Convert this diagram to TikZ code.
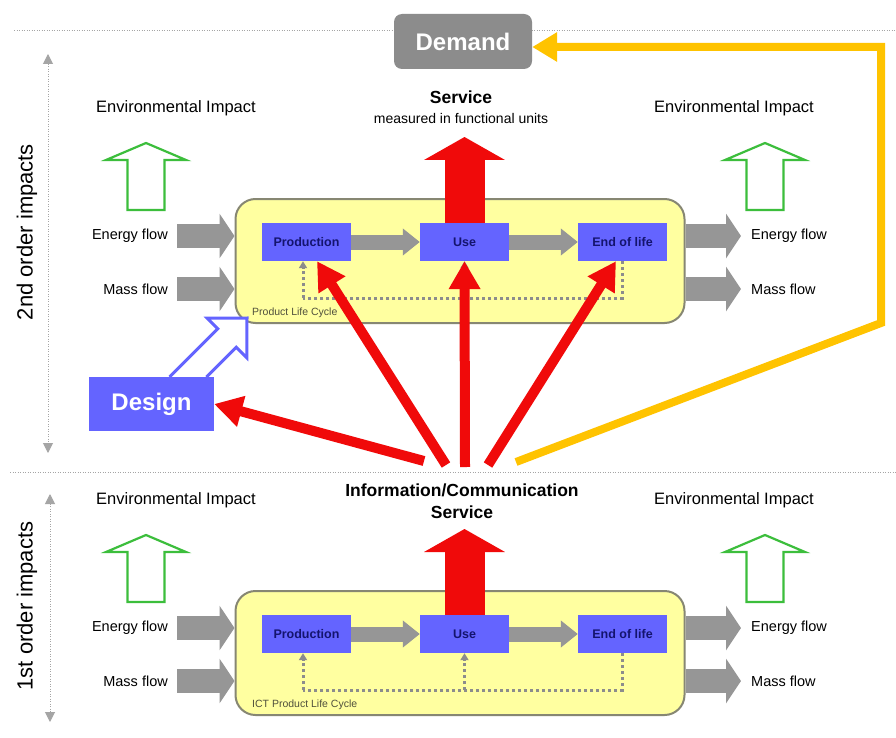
\documentclass[tikz,border=0pt]{standalone}
\usepackage{fontspec}
\setmainfont{Liberation Sans}
\usetikzlibrary{arrows.meta}
\definecolor{stageblue}{RGB}{100,100,255}
\definecolor{navy}{RGB}{20,20,110}
\definecolor{lcfill}{RGB}{255,255,160}
\definecolor{lcborder}{RGB}{135,135,115}
\definecolor{flowgray}{RGB}{150,150,150}
\definecolor{redc}{RGB}{240,10,10}
\definecolor{goldc}{RGB}{255,195,0}
\definecolor{envgreen}{RGB}{60,190,60}
\definecolor{demandgray}{RGB}{140,140,140}
\definecolor{sepgray}{RGB}{165,165,165}
\definecolor{fbgray}{RGB}{140,140,140}
\definecolor{lclabelc}{RGB}{80,80,60}
\newcommand\fsz[2]{\fontsize{#1}{#2}\selectfont}
% one life-cycle section: #1 = name prefix, #2 = cycle label, #3 = vertical shift
\newcommand\lcsection[3]{%
\begin{scope}[shift={(0,#3)}]
  \node[lcbox] (#1box) at (460,261) {};
  \node[lclabel, anchor=west] (#1boxlbl) at (252,313) {#2};
  \node[stage] (#1prod) at (306.5,242) {Production};
  \node[stage] (#1use) at (464.5,242) {Use};
  \node[stage] (#1eol) at (622.5,242) {End of life};
  \draw[flowsmall] (#1prod) -- (#1use);
  \draw[flowsmall] (#1use) -- (#1eol);
  % feedback loop
  \coordinate (#1fbl) at (303,298);
  \draw[fb] (#1eol.south) |- (#1fbl);
  \draw[fbtip] (#1fbl) -- (#1fbl |- #1prod.south);
  \draw[fbtip] (#1fbl -| #1use.south) -- (#1use.south);
  % flows
  \node[txt, anchor=east] (#1eL) at (168,236) {Energy flow};
  \node[txt, anchor=east] (#1mL) at (168,289) {Mass flow};
  \node[txt, anchor=west] (#1eR) at (751,236) {Energy flow};
  \node[txt, anchor=west] (#1mR) at (751,289) {Mass flow};
  \coordinate (#1eIn) at (177,236);
  \coordinate (#1mIn) at (177,289);
  \coordinate (#1eOut) at (741,236);
  \coordinate (#1mOut) at (741,289);
  \draw[flowbig] (#1eIn) -- (#1eIn -| #1box.west);
  \draw[flowbig] (#1mIn) -- (#1mIn -| #1box.west);
  \draw[flowbig] (#1eOut -| #1box.east) -- (#1eOut);
  \draw[flowbig] (#1mOut -| #1box.east) -- (#1mOut);
  % environmental impact
  \node[envtxt] (#1envL) at (176,108) {Environmental Impact};
  \node[envtxt] (#1envR) at (734,108) {Environmental Impact};
  \coordinate (#1gL) at (146,143);
  \coordinate (#1gR) at (765,143);
  \draw[envarrow] (#1gL) -- ++(40,17) -- ++(-21.5,0) -- ++(0,50) -- ++(-37,0) -- ++(0,-50) -- ++(-21.5,0) -- cycle;
  \draw[envarrow] (#1gR) -- ++(40,17) -- ++(-21.5,0) -- ++(0,50) -- ++(-37,0) -- ++(0,-50) -- ++(-21.5,0) -- cycle;
  % service output
  \coordinate (#1svc) at (464.5,137);
  \draw[svcarrow] (#1use.north) -- (#1svc);
\end{scope}}
\begin{document}
\begin{tikzpicture}[x=1pt,y=-1pt,
  lcbox/.style={draw=lcborder, line width=2pt, fill=lcfill, rounded corners=20pt,
    minimum width=449pt, minimum height=124pt, inner sep=0pt},
  lclabel/.style={font=\fsz{10.5}{12}, text=lclabelc, inner sep=0pt},
  stage/.style={fill=stageblue, minimum width=89pt, minimum height=38pt, inner sep=0pt,
    font=\bfseries\fsz{12.5}{15}, text=navy},
  txt/.style={font=\fsz{14.5}{17}, inner sep=0pt},
  envtxt/.style={font=\fsz{16.5}{19}, inner sep=0pt},
  flowbig/.style={draw=flowgray, line width=24pt, -{Triangle[length=15pt,width=44pt]}},
  flowsmall/.style={draw=flowgray, line width=15pt, -{Triangle[length=17pt,width=26pt]}},
  envarrow/.style={draw=envgreen, line width=2.2pt, fill=white, line join=miter},
  fb/.style={draw=fbgray, line width=3pt, dash pattern=on 3pt off 3pt},
  fbtip/.style={fb, -{Triangle[length=7pt,width=8pt]}},
  svcarrow/.style={draw=redc, line width=40pt, -{Triangle[length=23pt,width=80pt]}},
  ictarrow/.style={draw=redc, line width=10pt, -{Triangle[length=28pt,width=30pt]}},
  demandarrow/.style={draw=goldc, line width=8pt, -{Triangle[length=25pt,width=28pt]}},
  sepline/.style={draw=sepgray, line width=1pt, dash pattern=on 1pt off 1.5pt},
  axisline/.style={draw=sepgray, line width=1pt, dash pattern=on 1pt off 1.5pt,
    {Triangle[length=10pt,width=10pt]}-{Triangle[length=10pt,width=10pt]}},
  sidelabel/.style={rotate=90, font=\fsz{22}{26}, inner sep=0pt},
  designarrow/.style={draw=stageblue, line width=3pt, fill=white, line join=miter}
]
\useasboundingbox (0,0) rectangle (896,738);
\fill[white] (0,0) rectangle (896,738);

% separators
\coordinate (sepTa) at (14,31); \coordinate (sepTb) at (896,31);
\coordinate (sepMa) at (10,472); \coordinate (sepMb) at (896,472);
\draw[sepline] (sepTa) -- (sepTb);
\draw[sepline] (sepMa) -- (sepMb);

% side axes
\coordinate (axUa) at (48,54); \coordinate (axUb) at (48,453);
\coordinate (axLa) at (50,494); \coordinate (axLb) at (50,722);
\draw[axisline] (axUa) -- (axUb);
\draw[axisline] (axLa) -- (axLb);
\node[sidelabel] (lab2nd) at (27,232) {2nd order impacts};
\node[sidelabel] (lab1st) at (27,606) {1st order impacts};

% sections
\lcsection{u}{Product Life Cycle}{0}
\lcsection{l}{ICT Product Life Cycle}{392}

% service labels
\node[font=\bfseries\fsz{17.5}{21}, inner sep=0pt] (svcTitle) at (461,97) {Service};
\node[font=\fsz{14}{17}, inner sep=0pt] (svcSub) at (461,118) {measured in functional units};
\node[font=\bfseries\fsz{17.5}{22}, align=center, inner sep=0pt] (ict) at (462,501) {Information/Communication\\Service};

% design
\draw[designarrow] (169.6,377) -- (217.8,328.8) -- (207.2,318.2) -- (247,318) -- (246.8,357.8) -- (236.2,347.2) -- (206.4,377);
\node[fill=stageblue, minimum width=125pt, minimum height=54pt, inner sep=0pt,
  text=white, font=\bfseries\fsz{24}{28}] (design) at (151.5,404) {Design};

% demand
\node[fill=demandgray, rounded corners=8pt, minimum width=138pt, minimum height=55pt,
  inner sep=0pt, text=white, font=\bfseries\fsz{24}{28}] (demand) at (463,41.5) {Demand};

% ICT influence arrows
\coordinate (hubDesign) at (424,461);
\coordinate (hubProd) at (446,465);
\coordinate (hubUse) at (465,467);
\coordinate (hubEol) at (488,465);
\coordinate (hubDem) at (516,462);
\draw[ictarrow] (hubDesign) -- (design.east);
\draw[ictarrow] (hubProd) -- ([xshift=10.5pt]uprod.south);
\draw[ictarrow] (hubUse) -- (uuse.south);
\draw[ictarrow] (hubEol) -- ([xshift=-6.5pt]ueol.south);

% demand feedback
\coordinate (ylow) at (881,323);
\coordinate (ytop) at (881,47);
\draw[demandarrow] (hubDem) -- (ylow) -- (ytop) -- (ytop -| demand.east);
\end{tikzpicture}
\end{document}
